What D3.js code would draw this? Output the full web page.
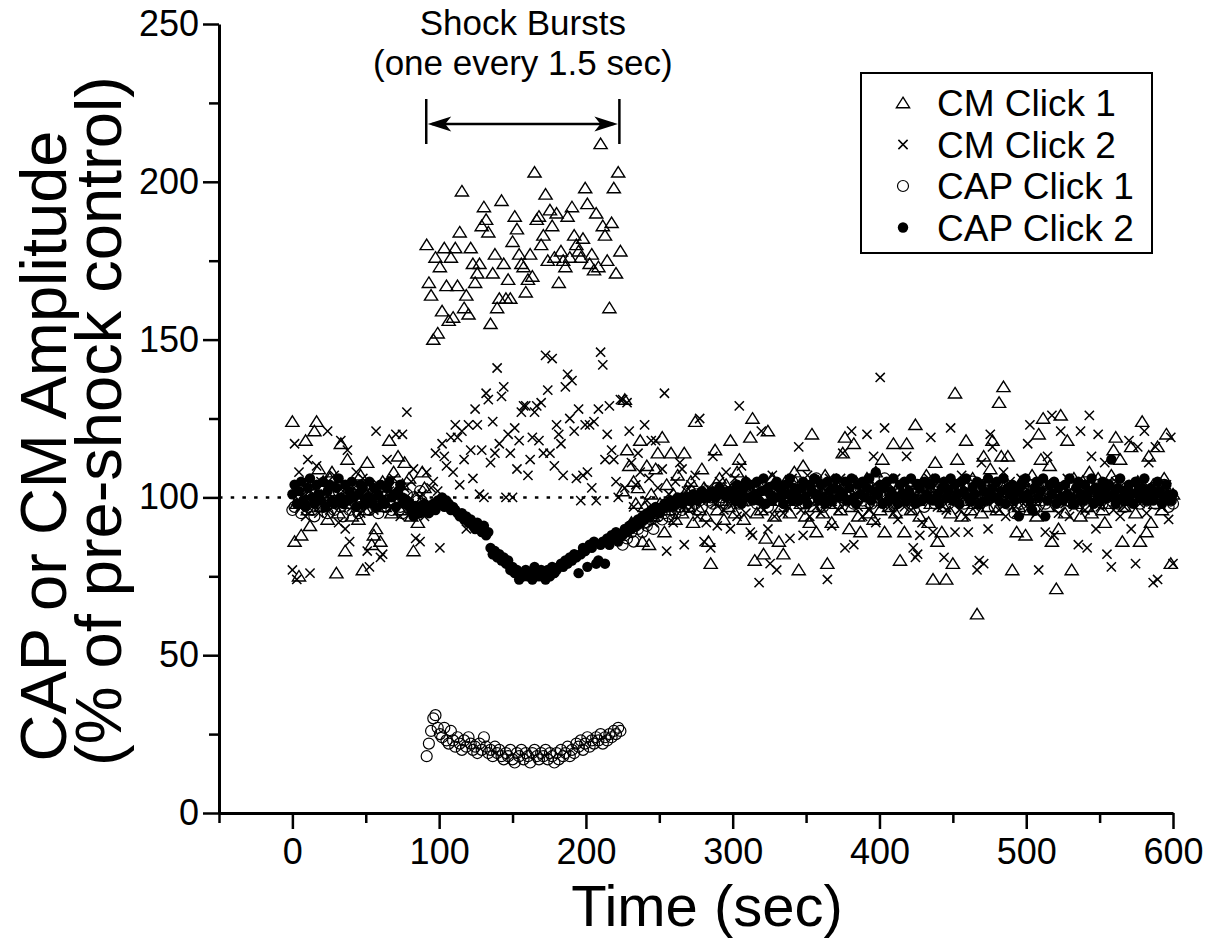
<!DOCTYPE html>
<html><head><meta charset="utf-8">
<script src="https://cdn.jsdelivr.net/npm/d3@7"></script>
<style>
body{margin:0;background:#fff}
svg{display:block}
text{font-family:"Liberation Sans",Arial,Helvetica,sans-serif;fill:#000}
</style>
</head><body>
<svg id="chart" width="1212" height="941"></svg>
<script>
// one shock/click burst every 1.5 s -> sample i is at time i*1.5 s
const SAMPLE_INTERVAL = 1.5;
const seriesNames = ["CM Click 1", "CM Click 2", "CAP Click 1", "CAP Click 2"];

const cmClick1 = [
124,86,98,75,88,104,118,96,91,102,121,124,109,97,105,100,93,106,108,99,
76,95,117,102,83,112,98,94,104,100,93,107,77,96,111,101,85,88,90,99,
86,105,97,102,118,95,108,101,113,96,104,111,99,106,94,83,100,92,97,108,103,
180,168,164,150,176,152,173,159,179,167,156,176,157,179,167,184,197,160,164,158,
179,174,168,171,174,186,192,188,184,155,171,177,160,163,194,174,163,169,163,181,
189,185,177,174,173,165,169,177,170,203,188,189,180,183,196,175,191,186,176,190,
168,178,175,173,189,176,192,183,180,178,176,182,198,193,174,177,172,190,173,212,
186,183,175,160,187,198,171,203,178,
102,131,115,110,92,105,98,103,118,86,97,110,85,101,94,109,114,98,119,89,
104,96,114,101,93,107,99,95,114,102,97,105,92,124,100,96,109,103,94,86,
79,101,115,96,106,99,93,104,97,118,102,95,108,112,99,93,105,101,119,125,
80,95,104,96,82,87,121,99,106,94,101,86,97,82,105,99,95,103,108,100,
77,98,110,94,103,92,120,97,89,105,101,95,107,79,99,92,104,98,103,96,
114,119,101,90,97,117,105,94,89,102,98,106,95,101,93,108,100,96,112,89,
104,97,101,117,95,103,80,99,89,117,102,96,105,123,99,94,103,100,107,92,
98,74,111,86,104,89,97,74,101,95,79,133,112,103,94,99,118,101,96,106,
98,63,103,95,113,100,97,109,118,102,96,130,113,135,104,113,99,77,101,89,
97,105,100,88,103,96,107,99,94,120,112,125,101,97,110,86,104,71,90,126,
103,95,118,100,77,106,98,102,94,105,101,97,108,95,103,99,106,100,96,92,
104,98,107,115,119,101,112,86,97,103,99,116,102,95,105,86,124,100,89,113,
92,104,98,116,101,96,106,120,100,79,101
];

const cmClick2 = [
77,117,74,108,97,101,94,112,76,99,103,110,95,105,98,101,121,96,104,107,
99,92,118,102,90,115,86,97,103,108,100,95,106,98,83,78,101,96,121,104,
81,82,99,112,102,97,106,120,100,94,120,103,127,98,105,109,87,96,86,101,94,
108,97,103,105,114,102,84,117,113,110,97,119,108,123,119,104,121,112,90,123,
115,106,128,123,101,115,100,133,131,111,124,114,141,117,132,135,100,120,114,100,
122,109,118,127,129,129,107,112,119,127,129,118,130,114,145,134,114,144,110,123,
120,117,107,135,139,125,137,121,106,128,99,107,123,108,123,103,124,99,128,146,
142,112,120,129,115,112,105,100,131,
131,103,130,121,111,97,104,114,108,93,123,99,106,118,92,118,103,96,109,133,
83,101,97,92,105,99,111,109,85,102,96,104,99,107,94,125,101,86,92,103,
84,113,98,91,105,100,96,108,103,90,98,106,94,129,110,101,95,103,89,88,
99,104,73,121,96,102,90,79,107,94,77,100,104,95,101,97,87,106,99,103,
116,96,88,102,107,94,100,105,97,101,95,103,98,74,106,91,100,104,96,106,
114,84,99,103,121,85,101,97,105,94,100,120,96,103,113,92,101,138,98,122,
104,97,101,95,106,93,99,103,97,113,101,96,84,81,82,88,92,104,99,106,
119,89,101,97,105,100,81,96,104,122,99,89,103,96,107,101,94,89,100,105,
97,77,80,111,79,102,90,120,116,99,104,96,101,108,94,100,105,97,102,95,
101,106,98,103,117,123,97,101,95,77,104,99,89,113,102,126,88,100,95,121,
103,98,106,94,101,97,104,85,121,99,96,84,126,113,100,90,120,97,104,111,
82,101,78,96,105,99,94,103,97,101,118,90,104,79,116,98,102,121,95,111,
100,73,116,74,104,97,101,104,93,119,79
];

const capClick1 = [
96,97,101,99,95,98,102,97,100,96,94,99,103,98,97,100,95,99,101,96,
98,102,97,94,99,100,96,98,103,99,95,97,101,98,100,96,99,102,97,95,
98,100,97,101,99,96,98,103,100,97,95,99,101,98,96,100,97,99,102,98,96,
18,22,26,30,31,27,25,24,27,23,22,26,23,21,24,22,20,23,21,24,
22,20,21,19,22,20,24,21,19,20,18,21,19,20,18,17,19,18,20,17,
16,19,18,20,17,19,18,16,19,20,18,17,19,18,20,17,19,18,16,19,
17,20,18,19,21,18,20,19,22,21,23,20,22,24,21,23,22,24,23,25,
22,24,23,25,24,26,25,27,26,
85,88,87,90,89,86,91,90,92,89,92,91,94,93,90,95,94,96,93,95,
97,94,96,98,95,99,97,96,100,98,97,99,100,98,101,99,97,100,102,99,
100,98,101,103,99,100,102,98,101,100,99,103,101,98,102,100,104,99,101,103,
100,98,102,104,99,101,97,103,100,102,104,99,101,103,98,102,100,105,101,99,
102,100,104,98,101,103,99,102,106,100,101,97,103,100,102,99,104,101,98,102,
100,103,99,101,105,98,102,100,103,99,101,104,100,98,102,99,103,101,100,106,
99,102,100,104,98,101,103,99,102,100,103,98,101,100,104,99,102,97,101,103,
100,102,98,104,101,99,103,100,98,102,101,99,104,100,102,98,103,101,99,105,
100,102,98,101,104,99,102,100,103,97,101,104,99,102,100,98,103,101,95,102,
100,98,103,101,99,104,102,96,100,103,99,101,98,102,100,104,99,101,97,103,
100,102,99,104,101,98,102,100,103,99,101,97,103,100,102,99,104,101,98,102,
100,103,99,101,105,98,102,100,97,103,101,99,102,104,100,98,103,101,99,102,
100,103,98,101,102,99,104,100,97,99,98
];

const capClick2 = [
101,104,98,102,105,99,97,103,106,100,98,104,101,99,105,97,102,104,99,98,
103,106,100,98,104,99,102,105,100,97,101,104,103,98,100,105,99,103,97,101,
104,99,98,103,105,100,101,97,102,104,100,98,99,98,96,94,96,97,95,97,98,
96,95,97,98,96,99,98,100,97,99,98,96,97,
96,95,94,95,93,94,92,93,91,90,92,90,89,91,88,89,
84,82,83,81,82,80,81,79,80,77,78,76,
77,74,76,75,77,75,76,74,78,76,75,77,76,74,77,75,78,76,77,78,
79,78,80,79,81,80,82,81,76,82,84,83,78,85,84,86,79,80,85,86,79,87,85,88,
87,89,86,88,
88,90,89,91,90,92,91,93,92,94,93,95,94,96,95,97,96,95,97,98,
97,98,99,97,98,100,99,98,100,99,100,99,101,100,99,101,102,100,101,100,
101,102,100,101,103,102,101,100,102,101,102,99,104,101,98,103,105,100,104,99,
101,105,99,102,106,98,103,101,99,104,105,100,102,98,104,101,106,99,103,101,
99,103,105,100,98,104,102,106,101,99,104,100,98,105,102,99,103,106,100,102,
101,105,99,103,106,100,98,104,101,105,100,103,106,99,102,108,101,104,98,103,
105,99,102,106,100,98,104,101,105,99,102,106,100,98,104,103,99,105,101,100,
104,99,106,101,98,103,105,100,102,106,99,104,101,98,105,102,106,100,99,103,
101,105,98,104,102,99,106,101,103,100,105,99,102,106,98,103,101,104,99,102,
94,104,100,106,101,99,96,103,105,100,102,106,94,99,104,101,105,98,103,100,
99,104,101,106,100,98,103,105,101,99,104,100,102,106,98,103,101,99,105,102,
100,104,112,101,98,103,106,100,102,99,104,101,98,105,102,100,103,106,99,101,
103,99,101,105,102,98,100,104,101,99,101
];

const xMajorTicks = [0, 100, 200, 300, 400, 500, 600];
const xMinorTicks = [-50, 50, 150, 250, 350, 450, 550];
const yMajorTicks = [0, 50, 100, 150, 200, 250];
const yMinorTicks = [25, 75, 125, 175, 225];
const xDomain = [-50, 600];
const yDomain = [0, 250];
const referenceLevel = 100;
const shockWindow = [91.2, 222.8];
const annotationLines = ["Shock Bursts", "(one every 1.5 sec)"];
const xTitle = "Time (sec)";
const yTitleLines = ["CAP or CM Amplitude", "(% of pre-shock control)"];

// ---------- drawing ----------
const svg = d3.select("#chart");
const x = d3.scaleLinear().domain(xDomain).range([219, 1173]);
const y = d3.scaleLinear().domain(yDomain).range([813, 24]);

const triPath = "M0,-5.8L6.6,4.7L-6.6,4.7Z";
const crossPath = "M-4.6,-4.6L4.6,4.6M-4.6,4.6L4.6,-4.6";

const series = [
  {name: seriesNames[0], values: cmClick1, kind: "tri"},
  {name: seriesNames[1], values: cmClick2, kind: "cross"},
  {name: seriesNames[2], values: capClick1, kind: "open"},
  {name: seriesNames[3], values: capClick2, kind: "filled"}
];

function drawMarker(sel, kind) {
  if (kind === "tri") {
    sel.append("path").attr("d", triPath).attr("fill", "none").attr("stroke", "#000").attr("stroke-width", 1.4);
  } else if (kind === "cross") {
    sel.append("path").attr("d", crossPath).attr("fill", "none").attr("stroke", "#000").attr("stroke-width", 1.5);
  } else if (kind === "open") {
    sel.append("circle").attr("r", 5.5).attr("fill", "none").attr("stroke", "#000").attr("stroke-width", 1.2);
  } else {
    sel.append("circle").attr("r", 5.2).attr("fill", "#000");
  }
}

// reference dotted line at 100%
svg.append("line")
  .attr("x1", x(xDomain[0])).attr("x2", x(xDomain[1]))
  .attr("y1", y(referenceLevel)).attr("y2", y(referenceLevel))
  .attr("stroke", "#000").attr("stroke-width", 2.5).attr("stroke-dasharray", "3.5,8.2");

// data markers (filled drawn first)
const drawOrder = [3, 2, 0, 1];
drawOrder.forEach(si => {
  const s = series[si];
  const g = svg.append("g");
  const pts = g.selectAll("g").data(s.values).join("g")
    .attr("transform", (d, i) => `translate(${x(i * SAMPLE_INTERVAL)},${y(d)})`);
  drawMarker(pts, s.kind);
});

// axes
function styleAxis(g, fontSize) {
  g.select(".domain").attr("stroke-width", 3);
  g.selectAll(".tick line").attr("stroke-width", 2.5);
  g.selectAll(".tick text").attr("font-size", fontSize).attr("font-family", '"Liberation Sans",Arial,sans-serif').attr("fill", "#000");
}
const gx = svg.append("g").attr("transform", `translate(0,${y(0)})`)
  .call(d3.axisBottom(x).tickValues(xMajorTicks).tickSize(16).tickSizeOuter(0).tickPadding(9).tickFormat(d3.format("d")));
styleAxis(gx, 36);
const gxm = svg.append("g").attr("transform", `translate(0,${y(0)})`)
  .call(d3.axisBottom(x).tickValues(xMinorTicks).tickSize(10).tickSizeOuter(0).tickFormat(""));
gxm.select(".domain").remove();
gxm.selectAll(".tick line").attr("stroke-width", 2.5);

const gy = svg.append("g").attr("transform", `translate(${x(xDomain[0])},0)`)
  .call(d3.axisLeft(y).tickValues(yMajorTicks).tickSize(16).tickSizeOuter(0).tickPadding(4).tickFormat(d3.format("d")));
styleAxis(gy, 36);
const gym = svg.append("g").attr("transform", `translate(${x(xDomain[0])},0)`)
  .call(d3.axisLeft(y).tickValues(yMinorTicks).tickSize(10).tickSizeOuter(0).tickFormat(""));
gym.select(".domain").remove();
gym.selectAll(".tick line").attr("stroke-width", 2.5);

// axis titles
svg.append("text").attr("x", 707).attr("y", 926).attr("text-anchor", "middle")
  .attr("font-size", 58).text(xTitle);
svg.append("text").attr("transform", "translate(66,446) rotate(-90)").attr("text-anchor", "middle")
  .attr("font-size", 65).text(yTitleLines[0]);
svg.append("text").attr("transform", "translate(121,421) rotate(-90)").attr("text-anchor", "middle")
  .attr("font-size", 65).text(yTitleLines[1]);

// shock burst annotation
const xa = x(shockWindow[0]), xb = x(shockWindow[1]), xm = (xa + xb) / 2;
svg.append("text").attr("x", xm).attr("y", 35).attr("text-anchor", "middle").attr("font-size", 35).text(annotationLines[0]);
svg.append("text").attr("x", xm).attr("y", 75).attr("text-anchor", "middle").attr("font-size", 35).text(annotationLines[1]);
const ay = 124;
[xa, xb].forEach(xx => svg.append("line").attr("x1", xx).attr("x2", xx).attr("y1", 99).attr("y2", 144)
  .attr("stroke", "#000").attr("stroke-width", 2.5));
svg.append("line").attr("x1", xa + 6).attr("x2", xb - 6).attr("y1", ay).attr("y2", ay)
  .attr("stroke", "#000").attr("stroke-width", 2.5);
svg.append("path").attr("d", `M${xa + 1.5},${ay}L${xa + 25},${ay - 7.5}L${xa + 19},${ay}L${xa + 25},${ay + 7.5}Z`).attr("fill", "#000");
svg.append("path").attr("d", `M${xb - 1.5},${ay}L${xb - 25},${ay - 7.5}L${xb - 19},${ay}L${xb - 25},${ay + 7.5}Z`).attr("fill", "#000");

// legend
const lg = svg.append("g");
lg.append("rect").attr("x", 861).attr("y", 73).attr("width", 291).attr("height", 180)
  .attr("fill", "#fff").attr("stroke", "#000").attr("stroke-width", 2);
const legendBaselines = [116, 157.5, 199, 240.5];
series.forEach((s, k) => {
  const row = lg.append("g");
  const mk = row.append("g").attr("transform", `translate(903,${legendBaselines[k] - 13})`);
  drawMarker(mk, s.kind);
  row.append("text").attr("x", 937).attr("y", legendBaselines[k]).attr("font-size", 37).text(s.name);
});
</script>
</body></html>
